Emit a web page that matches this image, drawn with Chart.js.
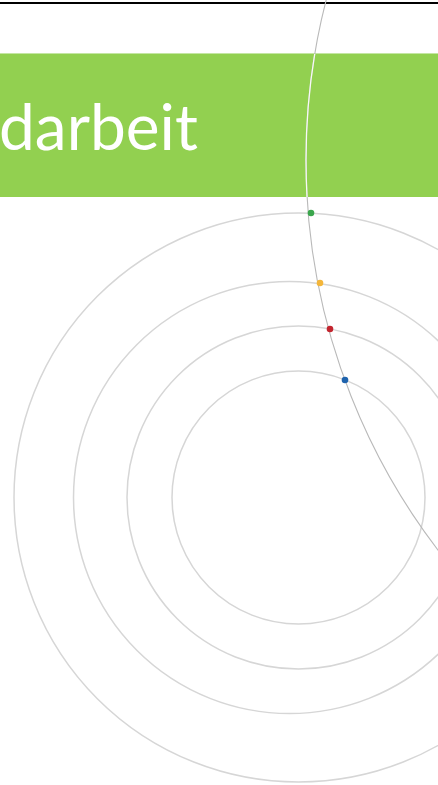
<!DOCTYPE html>
<html>
<head>
<meta charset="utf-8">
<script src="https://cdn.jsdelivr.net/npm/chart.js@4"></script>
<style>
  html, body { margin: 0; padding: 0; background: #fff; overflow: hidden; }
  body { width: 438px; height: 785px; position: relative; }
  .topline { position: absolute; left: 0; top: 2px; width: 438px; height: 2px; background: #000; }
  .banner { position: absolute; left: 0; top: 53px; width: 438px; height: 144px; background: #92d050; border-top: 1px solid #c4e6a2; box-sizing: border-box; }
  .banner-text { position: absolute; left: -1px; top: 94px; font-family: Lato, sans-serif; font-size: 64px; line-height: 64px; color: #fff; white-space: nowrap; }
  #orbitChart { position: absolute; left: 0; top: 0; }
</style>
</head>
<body>
<div class="topline"></div>
<div class="banner"></div>
<div class="banner-text">darbeit</div>
<canvas id="orbitChart" width="438" height="785"></canvas>
<script>
const orbitChart = document.getElementById('orbitChart').getContext('2d');

// rings (centre + radius, in chart units)
const ringX = [0, 0, -9, 0];
const ringY = [0, 0, 0, 0];
const ringSize = [126.5, 171.5, 216, 284.5];

// big arc crossing all rings
const arcX = [649.5];
const arcY = [337.5];
const arcSize = [642];

// dots where the arc meets the rings
const dotX = [12.5, 21.5, 31.5, 46.5];
const dotY = [284.5, 214.5, 168.5, 117.5];
const dotColors = ['#3aa64c', '#f4b63a', '#c3252f', '#1f63ad'];

const toPoints = (xs, ys, sizes) => xs.map((x, i) => ({ x: x, y: ys[i], size: sizes ? sizes[i] : 0 }));

// radius in chart units -> pixels, via the x scale
const unitRadius = ctx => {
    const s = ctx.chart.scales.x;
    return s.getPixelForValue(ctx.raw.size) - s.getPixelForValue(0);
};

new Chart(orbitChart, {
    type: 'scatter',
    data: {
        datasets: [
            {
                label: 'dots',
                data: toPoints(dotX, dotY),
                pointRadius: 3.3,
                pointBackgroundColor: dotColors,
                pointBorderWidth: 0,
                order: 0
            },
            {
                label: 'arc (banner)',
                data: toPoints(arcX, arcY, arcSize),
                pointRadius: unitRadius,
                pointBackgroundColor: 'transparent',
                pointBorderColor: 'rgba(255,255,255,0.9)',
                pointBorderWidth: 1.3,
                clip: { left: 0, right: 0, top: -54, bottom: -588 },
                order: 1
            },
            {
                label: 'arc',
                data: toPoints(arcX, arcY, arcSize),
                pointRadius: unitRadius,
                pointBackgroundColor: 'transparent',
                pointBorderColor: '#b9b9b9',
                pointBorderWidth: 1.1,
                order: 2
            },
            {
                label: 'rings',
                data: toPoints(ringX, ringY, ringSize),
                pointRadius: unitRadius,
                pointBackgroundColor: 'transparent',
                pointBorderColor: '#d6d6d6',
                pointBorderWidth: 1.5,
                order: 3
            }
        ]
    },
    options: {
        responsive: false,
        animation: false,
        events: [],
        layout: { padding: 0, autoPadding: false },
        plugins: {
            legend: { display: false },
            tooltip: { enabled: false }
        },
        scales: {
            x: { type: 'linear', min: -298.5, max: 139.5, display: false },
            y: { type: 'linear', min: -287.5, max: 497.5, display: false }
        }
    }
});
</script>
</body>
</html>
